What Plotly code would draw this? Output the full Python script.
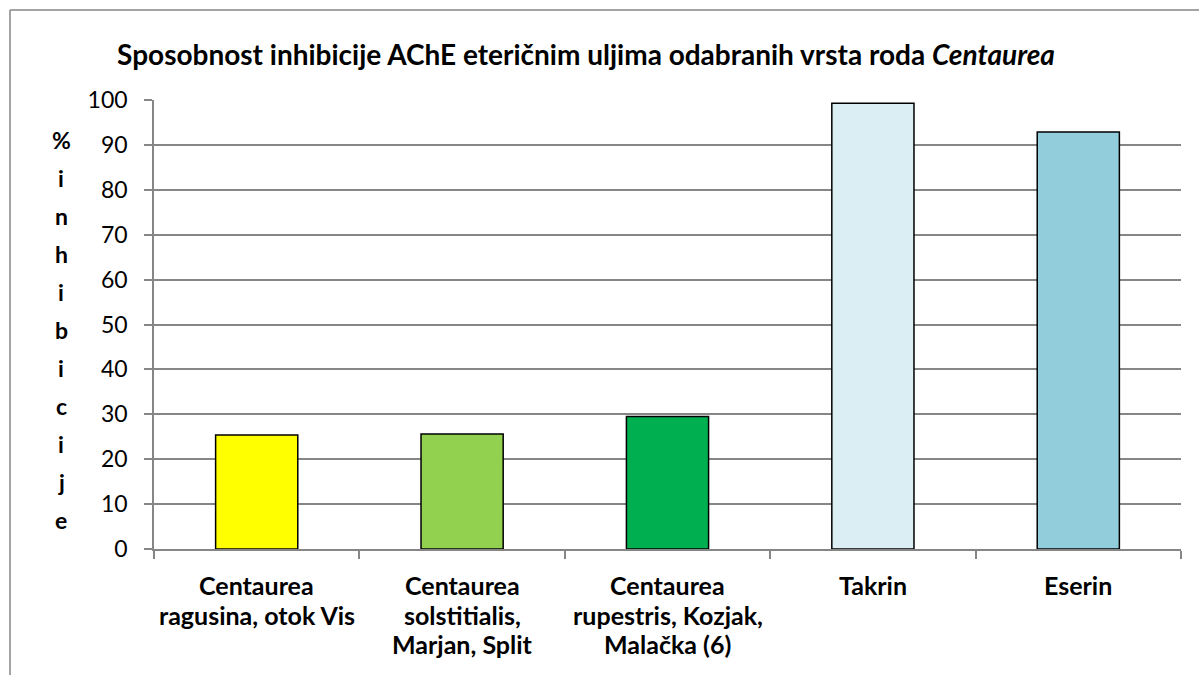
import plotly.graph_objects as go

# Category labels (line breaks as shown under each bar)
category_lines = [
    ["Centaurea", "ragusina, otok Vis"],
    ["Centaurea", "solstitialis,", "Marjan, Split"],
    ["Centaurea", "rupestris, Kozjak,", "Malačka (6)"],
    ["Takrin"],
    ["Eserin"],
]
categories = [" ".join(lines) for lines in category_lines]
inhibition = [25.4, 25.6, 29.5, 99.3, 92.9]
bar_colors = ["#FFFF00", "#92D050", "#00B050", "#DAEEF3", "#92CDDC"]
y_ticks = [0, 10, 20, 30, 40, 50, 60, 70, 80, 90, 100]
y_title = "%inhibicije"
title = "Sposobnost inhibicije AChE eteričnim uljima odabranih vrsta roda <i>Centaurea</i>"

FONT = "Lato"
W, H = 1199, 675
L, R, T, B = 154, 18, 100, 126

fig = go.Figure()
fig.add_trace(go.Bar(
    x=categories,
    y=inhibition,
    marker=dict(color=bar_colors, line=dict(color="#000000", width=1.5)),
    width=0.4,
    showlegend=False,
))

fig.update_layout(
    width=W, height=H,
    margin=dict(l=L, r=R, t=T, b=B),
    paper_bgcolor="white",
    plot_bgcolor="white",
    font=dict(family=FONT, color="#000000"),
    title=dict(
        text=title,
        x=586 / W, xref="container", xanchor="center",
        y=1 - 55 / H, yref="container", yanchor="middle",
        font=dict(family=FONT, size=28, color="#000000", weight="bold"),
    ),
    bargap=0.6,
)

fig.update_xaxes(
    type="category",
    showticklabels=False,
    showgrid=False,
    showline=True, linecolor="#868686", linewidth=1.5,
    ticks="outside", tickson="boundaries", ticklen=8, tickcolor="#868686", tickwidth=1.5,
)
fig.update_yaxes(
    range=[0, 100],
    tickvals=y_ticks,
    tickfont=dict(family=FONT, size=23, color="#000000"),
    ticklabelstandoff=12,
    showgrid=True, gridcolor="#868686", gridwidth=1.5,
    showline=True, linecolor="#868686", linewidth=1.5,
    ticks="outside", ticklen=8, tickcolor="#868686", tickwidth=1.5,
    zeroline=False,
)

# Category labels, one annotation per line
for cat, lines in zip(categories, category_lines):
    for i, line in enumerate(lines):
        fig.add_annotation(
            x=cat, xref="x", y=0, yref="paper",
            text=f"<b>{line}</b>", showarrow=False,
            xanchor="center", yanchor="middle",
            yshift=-(36 + 29.5 * i),
            font=dict(family=FONT, size=25, color="#000000"),
        )

# Vertical stacked y-axis title
for i, ch in enumerate(y_title):
    fig.add_annotation(
        x=0, xref="paper", y=1, yref="paper",
        text=f"<b>{ch}</b>", showarrow=False,
        xanchor="center", yanchor="middle",
        xshift=-(L - 61), yshift=-(40 + 38 * i),
        font=dict(family=FONT, size=23, color="#000000"),
    )

# Chart-area frame (top and left edges)
fig.add_shape(type="line", xref="paper", yref="paper",
              x0=-(L - 10) / (W - L - R), x1=(W - L) / (W - L - R),
              y0=1 + (T - 10) / (H - T - B), y1=1 + (T - 10) / (H - T - B),
              line=dict(color="#868686", width=1.5))
fig.add_shape(type="line", xref="paper", yref="paper",
              x0=-(L - 10) / (W - L - R), x1=-(L - 10) / (W - L - R),
              y0=1 + (T - 10) / (H - T - B), y1=-B / (H - T - B),
              line=dict(color="#868686", width=1.5))

fig.write_html("out.html")
